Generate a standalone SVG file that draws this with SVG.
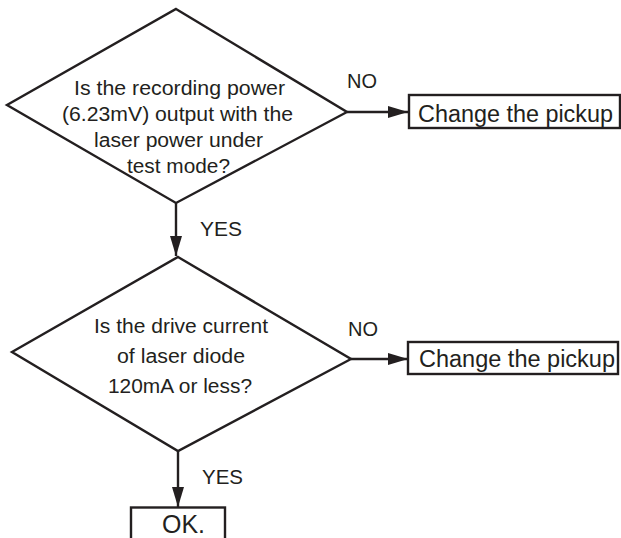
<svg xmlns="http://www.w3.org/2000/svg" width="621" height="538" viewBox="0 0 621 538">
  <style>
    .shape { fill: #ffffff; stroke: #231f20; stroke-width: 2.4; stroke-linejoin: miter; }
    .line { fill: none; stroke: #231f20; stroke-width: 2.4; }
    .txt { font-family: "Liberation Sans", Arial, sans-serif; fill: #231f20; }
    .q { font-size: 19.5px; text-anchor: start; }
    .lbl { font-size: 19.5px; }
    .box { font-size: 23.5px; }
  </style>
  <defs>
    <marker id="arrow" viewBox="0 0 20 12" refX="20" refY="6" markerWidth="20" markerHeight="12" markerUnits="userSpaceOnUse" orient="auto">
      <path d="M0,0 L20,6 L0,12 Z" fill="#231f20"/>
    </marker>
  </defs>
  <rect width="621" height="538" fill="#ffffff"/>

  <g id="connectors">
    <line class="line" x1="347" y1="112" x2="408" y2="112" marker-end="url(#arrow)"/>
    <line class="line" x1="176" y1="203" x2="176" y2="256" marker-end="url(#arrow)"/>
    <line class="line" x1="351" y1="359" x2="408" y2="359" marker-end="url(#arrow)"/>
    <line class="line" x1="178" y1="451" x2="178" y2="507" marker-end="url(#arrow)"/>
    <text class="txt lbl" x="347" y="88" textLength="30" lengthAdjust="spacingAndGlyphs">NO</text>
    <text class="txt lbl" x="200" y="236" textLength="42" lengthAdjust="spacingAndGlyphs">YES</text>
    <text class="txt lbl" x="348" y="336" textLength="30" lengthAdjust="spacingAndGlyphs">NO</text>
    <text class="txt lbl" x="202" y="484" textLength="41" lengthAdjust="spacingAndGlyphs">YES</text>
  </g>

  <g id="decision1">
    <polygon class="shape" points="176,9 347,112 176,203 7,105"/>
    <text class="txt q" x="74" y="95" textLength="211" lengthAdjust="spacingAndGlyphs">Is the recording power</text>
    <text class="txt q" x="62" y="120.5" textLength="231" lengthAdjust="spacingAndGlyphs">(6.23mV) output with the</text>
    <text class="txt q" x="94" y="147" textLength="169" lengthAdjust="spacingAndGlyphs">laser power under</text>
    <text class="txt q" x="127" y="173" textLength="103" lengthAdjust="spacingAndGlyphs">test mode?</text>
  </g>

  <g id="pickup1">
    <rect class="shape" x="409" y="95" width="211" height="33"/>
    <text class="txt box" x="418" y="122" textLength="195" lengthAdjust="spacingAndGlyphs">Change the pickup</text>
  </g>

  <g id="decision2">
    <polygon class="shape" points="178,257 351,359 178,451 12,352"/>
    <text class="txt q" x="94" y="333" textLength="174" lengthAdjust="spacingAndGlyphs">Is the drive current</text>
    <text class="txt q" x="117" y="363" textLength="128" lengthAdjust="spacingAndGlyphs">of laser diode</text>
    <text class="txt q" x="108" y="393" textLength="144" lengthAdjust="spacingAndGlyphs">120mA or less?</text>
  </g>

  <g id="pickup2">
    <rect class="shape" x="408" y="342" width="210" height="32"/>
    <text class="txt box" x="419" y="367" textLength="196" lengthAdjust="spacingAndGlyphs">Change the pickup</text>
  </g>

  <g id="ok">
    <rect class="shape" x="131" y="507.5" width="94" height="45"/>
    <text class="txt" x="162" y="533" font-size="25" textLength="43" lengthAdjust="spacingAndGlyphs">OK.</text>
  </g>
</svg>
